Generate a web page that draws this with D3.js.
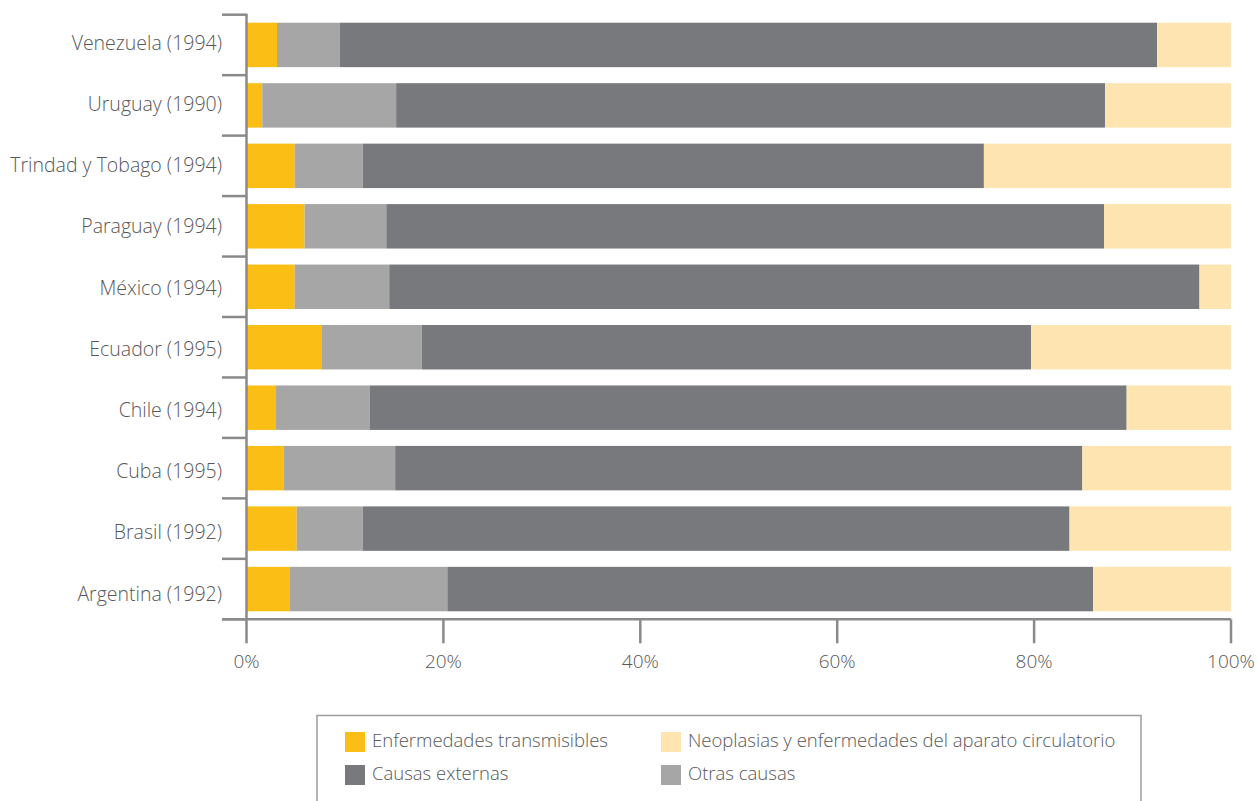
<!DOCTYPE html>
<html>
<head>
<meta charset="utf-8">
<script src="https://cdn.jsdelivr.net/npm/d3@7"></script>
<style>
  html, body { margin: 0; padding: 0; background: #fff; }
  svg { display: block; }
  text { font-family: "Open Sans", Lato, sans-serif; fill: #58585A; font-weight: 300; }
</style>
</head>
<body>
<svg id="chart" width="1257" height="801"></svg>
<script>
// Countries (with year of data), top to bottom
const categories = [
  "Venezuela (1994)", "Uruguay (1990)", "Trindad y Tobago (1994)", "Paraguay (1994)",
  "México (1994)", "Ecuador (1995)", "Chile (1994)", "Cuba (1995)",
  "Brasil (1992)", "Argentina (1992)"
];

// Share of deaths by cause (%), in stacking order
const transmisibles = [3.1, 1.6, 4.9, 5.9, 4.9, 7.6, 3.0, 3.8, 5.1, 4.4];
const otrasCausas   = [6.4, 13.6, 6.9, 8.3, 9.6, 10.2, 9.5, 11.3, 6.7, 16.0];
const externas      = [83.0, 72.0, 63.1, 72.9, 82.3, 61.9, 76.9, 69.8, 71.8, 65.6];
const neoplasias    = [7.5, 12.8, 25.1, 12.9, 3.2, 20.3, 10.6, 15.1, 16.4, 14.0];

const seriesNames = [
  "Enfermedades transmisibles", "Otras causas", "Causas externas",
  "Neoplasias y enfermedades del aparato circulatorio"
];
const seriesValues = [transmisibles, otrasCausas, externas, neoplasias];
const seriesColors = ["#FBBE15", "#A6A6A6", "#78797D", "#FEE4B0"];

const xTicks = [0, 20, 40, 60, 80, 100];

const svg = d3.select("#chart");
const axisColor = "#8A8A8D";

const x = d3.scaleLinear().domain([0, 100]).range([246.5, 1231]);
const y = d3.scaleBand().domain(categories).range([14.7, 619.3])
  .paddingInner(0.265).paddingOuter(0.1325);
// Category labels sit on their own, slightly wider spacing
const yLabel = d3.scalePoint().domain(categories).range([44.5, 595.5]);

// Stack rows
const rows = categories.map((c, i) => {
  const r = { cat: c };
  seriesNames.forEach((s, k) => r[s] = seriesValues[k][i]);
  return r;
});
const stacked = d3.stack().keys(seriesNames)(rows);

const gBars = svg.append("g");
gBars.selectAll("g.series")
  .data(stacked)
  .join("g")
  .attr("class", "series")
  .attr("fill", (d, i) => seriesColors[i])
  .selectAll("rect")
  .data(d => d)
  .join("rect")
  .attr("x", d => x(d[0]))
  .attr("width", d => x(d[1]) - x(d[0]))
  .attr("y", d => y(d.data.cat))
  .attr("height", y.bandwidth());

// Category axis: vertical line with ticks at band boundaries
const step = y.step();
const [y0, y1] = y.range();
const boundaries = d3.range(categories.length + 1).map(i => y0 + i * step);
const gY = svg.append("g");
gY.append("line")
  .attr("x1", x(0)).attr("x2", x(0))
  .attr("y1", y0 - 1).attr("y2", y1)
  .attr("stroke", axisColor).attr("stroke-width", 2.5);
gY.selectAll("line.tick")
  .data(boundaries)
  .join("line")
  .attr("class", "tick")
  .attr("x1", 222).attr("x2", x(0))
  .attr("y1", d => d).attr("y2", d => d)
  .attr("stroke", axisColor).attr("stroke-width", 2.5);
gY.selectAll("text")
  .data(categories)
  .join("text")
  .attr("x", 222)
  .attr("y", d => yLabel(d))
  .attr("text-anchor", "end")
  .attr("dominant-baseline", "middle")
  .attr("font-size", 19.5)
  .text(d => d);

// Value axis
const gX = svg.append("g");
gX.append("line")
  .attr("x1", 222).attr("x2", x(100))
  .attr("y1", y1).attr("y2", y1)
  .attr("stroke", axisColor).attr("stroke-width", 2.5);
gX.selectAll("line.tick")
  .data(xTicks)
  .join("line")
  .attr("class", "tick")
  .attr("x1", d => x(d)).attr("x2", d => x(d))
  .attr("y1", y1).attr("y2", y1 + 24)
  .attr("stroke", axisColor).attr("stroke-width", 2.5);
gX.selectAll("text")
  .data(xTicks)
  .join("text")
  .attr("x", d => x(d))
  .attr("y", 663)
  .attr("text-anchor", "middle")
  .attr("dominant-baseline", "middle")
  .attr("font-size", 19)
  .text(d => d + "%");

// Legend
const gL = svg.append("g");
gL.append("rect")
  .attr("x", 317).attr("y", 715.5)
  .attr("width", 824).attr("height", 100)
  .attr("fill", "none").attr("stroke", "#9C9C9E").attr("stroke-width", 1.5);
const legendItems = [
  { name: seriesNames[0], color: seriesColors[0], lx: 345, ly: 742 },
  { name: seriesNames[3], color: seriesColors[3], lx: 661, ly: 742 },
  { name: seriesNames[2], color: seriesColors[2], lx: 345, ly: 775 },
  { name: seriesNames[1], color: seriesColors[1], lx: 661, ly: 775 }
];
const li = gL.selectAll("g.item").data(legendItems).join("g").attr("class", "item");
li.append("rect")
  .attr("x", d => d.lx).attr("y", d => d.ly - 10)
  .attr("width", 20).attr("height", 20)
  .attr("fill", d => d.color);
li.append("text")
  .attr("x", d => d.lx + 27).attr("y", d => d.ly)
  .attr("dominant-baseline", "middle")
  .attr("font-size", 18.5)
  .text(d => d.name);
</script>
</body>
</html>
